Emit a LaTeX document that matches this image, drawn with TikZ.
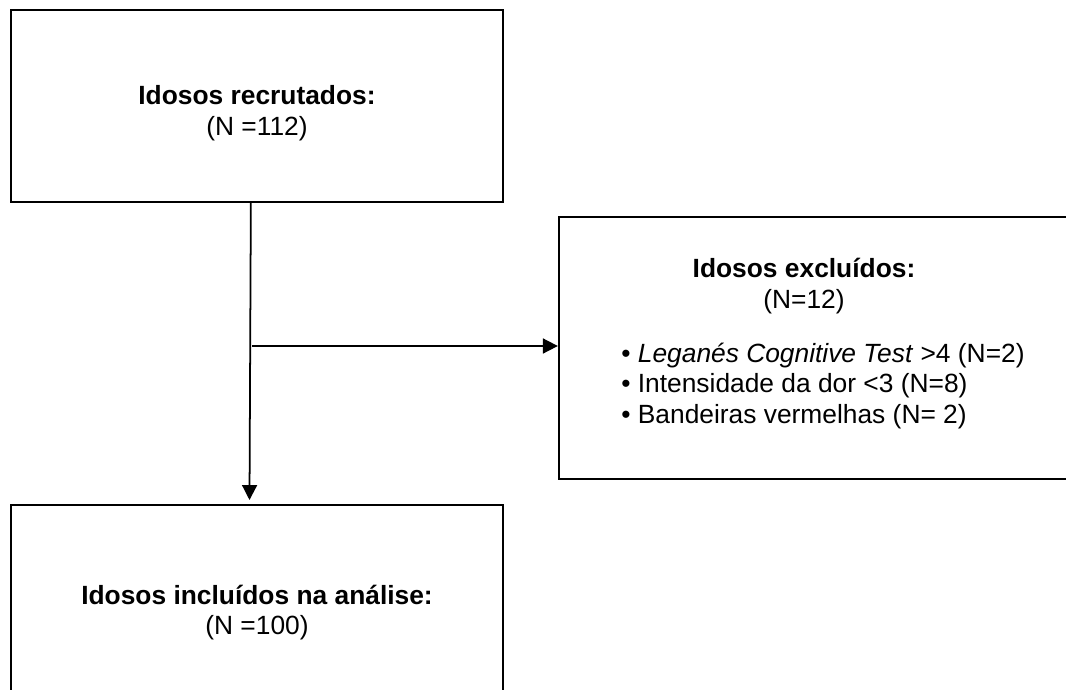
\documentclass[tikz,border=0pt]{standalone}
\usepackage{fontspec}
\setmainfont{Liberation Sans}
\usepackage{tikz}
\usetikzlibrary{arrows.meta,positioning,calc}
\tikzset{
  box/.style={rectangle,draw=black,line width=1.3pt,inner sep=0pt},
  txt/.style={font=\fontsize{15}{17.5}\selectfont,align=center,inner sep=0pt},
  crit/.style={font=\fontsize{15}{17.5}\selectfont,align=left,inner sep=0pt,anchor=west},
  arrow/.style={-{Triangle[length=8.5pt,width=8.5pt]},line width=1pt,color=black}
}
\begin{document}
\begin{tikzpicture}[x=0.02cm,y=-0.02cm]
  \useasboundingbox (0,0) rectangle (1066,690);
  \node[box,minimum width=492*0.02cm,minimum height=192*0.02cm] (rec) at (257,106) {};
  \node[box,minimum width=514*0.02cm,minimum height=262*0.02cm] (exc) at (816,348) {};
  \node[box,minimum width=492*0.02cm,minimum height=192*0.02cm] (inc) at (257,601) {};
  \node[txt] (rectxt) at (257,113.5) {\textbf{Idosos recrutados:}\\(N =112)};
  \node[txt] (exctxt) at (804,286) {\textbf{Idosos exclu\'idos:}\\(N=12)};
  \node[crit] (critlist) at (621,386)
    {\textbullet\ \textit{Legan\'es Cognitive Test} >4 (N=2)\\
     \textbullet\ Intensidade da dor <3 (N=8)\\
     \textbullet\ Bandeiras vermelhas (N= 2)};
  \node[txt] (inctxt) at (257,612.5) {\textbf{Idosos inclu\'idos na an\'alise:}\\(N =100)};
  \coordinate (down) at ($(rec.south west)+(241,0)$);
  \coordinate (tip) at (249.5,500);
  \coordinate (branch) at (252,346);
  \draw[arrow] (down) -- (tip);
  \draw[arrow] (branch) -- (branch -| exc.west);
\end{tikzpicture}
\end{document}
